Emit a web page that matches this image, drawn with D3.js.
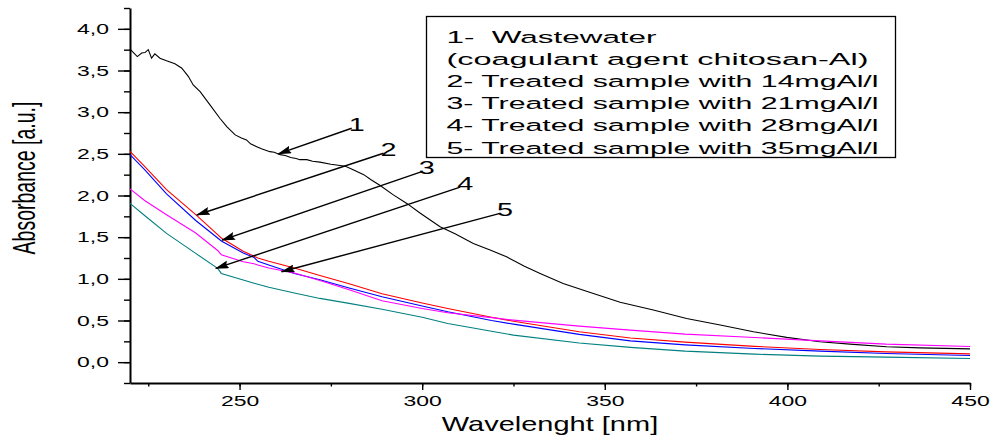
<!DOCTYPE html>
<html>
<head>
<meta charset="utf-8">
<script src="https://cdnjs.cloudflare.com/ajax/libs/d3/7.8.5/d3.min.js"></script>
<style>
  body { margin: 0; background: #fff; }
  svg { display: block; font-family: "Liberation Sans", Arial, sans-serif; }
</style>
</head>
<body>
<div id="chart"></div>
<script>
// Wastewater (curve 1), denser where it is noisy
var wlWaste = [220, 222, 223.2, 224.1, 225, 225.9, 226.8, 228.2, 230, 232.3, 234.2, 236, 237.3, 239.2,
    241.9, 244.6, 246.5, 248.8, 250.5, 251.9, 253, 254.7, 256, 258.3, 259.5, 261.1, 262.5, 264, 265.5,
    266.5, 268.4, 270, 272, 275, 277.5, 279, 281.1, 284, 286, 288.5, 292, 295.8, 299.4, 304.9, 309, 314,
    318.6, 323.1, 328, 332.3, 338.6, 345, 354.2, 363.3, 372.4, 381.6, 390.7, 399.8, 408.9, 418, 427.2,
    436.3, 450];
var absWaste = [3.756, 3.667, 3.71, 3.715, 3.75, 3.648, 3.70, 3.648, 3.616, 3.58, 3.528, 3.427, 3.327, 3.247,
    3.087, 2.927, 2.827, 2.727, 2.69, 2.667, 2.62, 2.586, 2.56, 2.526, 2.52, 2.49, 2.48, 2.455, 2.445,
    2.43, 2.43, 2.41, 2.40, 2.375, 2.36, 2.35, 2.31, 2.25, 2.19, 2.12, 2.01, 1.905, 1.79, 1.625, 1.54, 1.425,
    1.345, 1.265, 1.15, 1.065, 0.945, 0.85, 0.72, 0.625, 0.525, 0.445, 0.365, 0.297, 0.245, 0.213, 0.185,
    0.172, 0.16];

// Treated samples share one wavelength grid
var wavelengths = [220, 224, 230, 238, 244, 245, 251, 254, 255, 258, 265, 272, 280, 289, 300, 307, 319, 325, 343, 357, 372, 391, 409, 427, 450];
var absRed     = [2.53, 2.35, 2.07, 1.77, 1.53, 1.49, 1.33, 1.27, 1.25, 1.21, 1.13, 1.04, 0.94, 0.82, 0.71, 0.645, 0.54, 0.49, 0.365, 0.29, 0.24, 0.19, 0.152, 0.124, 0.10];
var absBlue    = [2.49, 2.31, 2.02, 1.70, 1.49, 1.455, 1.31, 1.255, 1.21, 1.165, 1.065, 0.99, 0.89, 0.785, 0.675, 0.605, 0.50, 0.456, 0.333, 0.256, 0.208, 0.164, 0.132, 0.104, 0.08];
var absMagenta = [2.08, 1.94, 1.77, 1.55, 1.34, 1.29, 1.205, 1.18, 1.165, 1.13, 1.07, 0.98, 0.87, 0.737, 0.645, 0.593, 0.535, 0.505, 0.432, 0.384, 0.336, 0.296, 0.256, 0.216, 0.188];
var absTeal    = [1.905, 1.76, 1.545, 1.305, 1.125, 1.065, 0.985, 0.948, 0.936, 0.9, 0.83, 0.765, 0.705, 0.635, 0.54, 0.465, 0.37, 0.325, 0.23, 0.177, 0.132, 0.096, 0.072, 0.06, 0.044];

// Arrow annotations (data units)
var arrowLabels = ["1", "2", "3", "4", "5"];
var arrowStartWl = [280.7, 289.4, 299.9, 310.4, 321.3];
var arrowStartAbs = [2.807, 2.507, 2.286, 2.10, 1.786];
var arrowEndWl = [260.6, 238.3, 245.2, 243.5, 261.5];
var arrowEndAbs = [2.50, 1.766, 1.465, 1.125, 1.085];

// Legend lines
var legendLines = ["1-  Wastewater", "(coagulant agent chitosan-Al)",
    "2- Treated sample with 14mgAl/l", "3- Treated sample with 21mgAl/l",
    "4- Treated sample with 28mgAl/l", "5- Treated sample with 35mgAl/l"];

// Ticks
var xTicks = [250, 300, 350, 400, 450],
    xMinor = [225, 250, 275, 300, 325, 350, 375, 400, 425, 450],
    yTicks = [0, 0.5, 1, 1.5, 2, 2.5, 3, 3.5, 4],
    yMinor = [-0.25, 0, 0.25, 0.5, 0.75, 1, 1.25, 1.5, 1.75, 2, 2.25, 2.5, 2.75, 3, 3.25, 3.5, 3.75, 4, 4.25];

var width = 992, height = 439;

var svg = d3.select("#chart").append("svg")
    .attr("width", width)
    .attr("height", height);

svg.append("rect").attr("width", width).attr("height", height).attr("fill", "#fff");

var x = d3.scaleLinear().domain([220, 450]).range([130, 970]);
var y = d3.scaleLinear().domain([-0.25, 4.25]).range([383, 8]);

var stretch = 1.53; // the picture is wider than it is tall, text included
var commaFmt = function(d) { return d3.format(".1f")(d).replace(".", ","); };

// Minor ticks first
svg.append("g")
    .attr("transform", "translate(130,0)")
    .call(d3.axisLeft(y).tickValues(yMinor).tickSize(6).tickFormat(""))
    .call(function(g) { g.select(".domain").remove(); });

svg.append("g")
    .attr("transform", "translate(0,383)")
    .call(d3.axisBottom(x).tickValues(xMinor).tickSize(3.5).tickFormat(""))
    .call(function(g) { g.select(".domain").remove(); });

// Y axis
var yAxis = svg.append("g")
    .attr("transform", "translate(130,0)")
    .call(d3.axisLeft(y).tickValues(yTicks).tickSize(12).tickSizeOuter(0).tickFormat(commaFmt));

yAxis.selectAll("text")
    .attr("x", -21 / stretch)
    .attr("transform", "scale(" + stretch + ",1)")
    .style("font-size", "15px")
    .style("fill", "#000");

// X axis
var xAxis = svg.append("g")
    .attr("transform", "translate(0,383)")
    .call(d3.axisBottom(x).tickValues(xTicks).tickSize(7).tickSizeOuter(0).tickFormat(d3.format("d")));

xAxis.selectAll("text")
    .attr("y", 12.4)
    .attr("transform", "scale(" + stretch + ",1)")
    .style("font-size", "15px")
    .style("fill", "#000");

svg.selectAll(".domain").style("stroke-width", 2).style("stroke", "#000");
svg.selectAll(".tick line").style("stroke-width", 1.4).style("stroke", "#000");

// Axis titles
svg.append("g")
    .attr("transform", "translate(35,178) scale(1.58,1)")
    .append("text")
    .attr("transform", "rotate(-90)")
    .attr("text-anchor", "middle")
    .style("font-size", "19.5px")
    .text("Absorbance [a.u.]");

svg.append("g")
    .attr("transform", "translate(550,431) scale(1.45,1)")
    .append("text")
    .attr("text-anchor", "middle")
    .style("font-size", "20px")
    .text("Wavelenght [nm]");

// Curves
var line = d3.line()
    .x(function(d) { return x(d[0]); })
    .y(function(d) { return y(d[1]); });

var series = [
    { values: d3.zip(wlWaste, absWaste), color: "#000000" },
    { values: d3.zip(wavelengths, absRed), color: "#ff0000" },
    { values: d3.zip(wavelengths, absBlue), color: "#0000ff" },
    { values: d3.zip(wavelengths, absMagenta), color: "#ff00ff" },
    { values: d3.zip(wavelengths, absTeal), color: "#008080" }
];

svg.selectAll("path.curve")
    .data(series)
    .enter().append("path")
    .attr("class", "curve")
    .attr("fill", "none")
    .attr("stroke", function(d) { return d.color; })
    .attr("stroke-width", 1.1)
    .attr("d", function(d) { return line(d.values); });

// Arrows
svg.append("defs").append("marker")
    .attr("id", "head")
    .attr("markerUnits", "userSpaceOnUse")
    .attr("viewBox", "0 0 14 8")
    .attr("markerWidth", 14)
    .attr("markerHeight", 8)
    .attr("refX", 13)
    .attr("refY", 4)
    .attr("orient", "auto")
    .append("path")
    .attr("d", "M0,0 L14,4 L0,8 L2,4 Z")
    .attr("fill", "#000");

var arrows = svg.selectAll("g.arrow")
    .data(arrowLabels)
    .enter().append("g")
    .attr("class", "arrow");

arrows.append("line")
    .attr("x1", function(d, i) { return x(arrowStartWl[i]); })
    .attr("y1", function(d, i) { return y(arrowStartAbs[i]); })
    .attr("x2", function(d, i) { return x(arrowEndWl[i]); })
    .attr("y2", function(d, i) { return y(arrowEndAbs[i]); })
    .attr("stroke", "#000")
    .attr("stroke-width", 1.4)
    .attr("marker-end", "url(#head)");

arrows.append("text")
    .attr("transform", function(d, i) {
        return "translate(" + (x(arrowStartWl[i]) - 3) + "," + (y(arrowStartAbs[i]) + 2.5) + ") scale(1.6,1)";
    })
    .style("font-size", "18px")
    .text(function(d) { return d; });

// Legend
svg.append("rect")
    .attr("x", 426.5)
    .attr("y", 16.5)
    .attr("width", 469)
    .attr("height", 141)
    .attr("fill", "#fff")
    .attr("stroke", "#000")
    .attr("stroke-width", 1.3);

var legendWidths = [210, 422, 432, 432, 432, 432];

svg.selectAll("text.legend")
    .data(legendLines)
    .enter().append("text")
    .attr("class", "legend")
    .attr("x", 446.5)
    .attr("y", function(d, i) { return 43 + i * 22.1; })
    .attr("textLength", function(d, i) { return legendWidths[i]; })
    .attr("lengthAdjust", "spacingAndGlyphs")
    .style("font-size", "16.3px")
    .style("white-space", "pre")
    .text(function(d) { return d; });
</script>
</body>
</html>
